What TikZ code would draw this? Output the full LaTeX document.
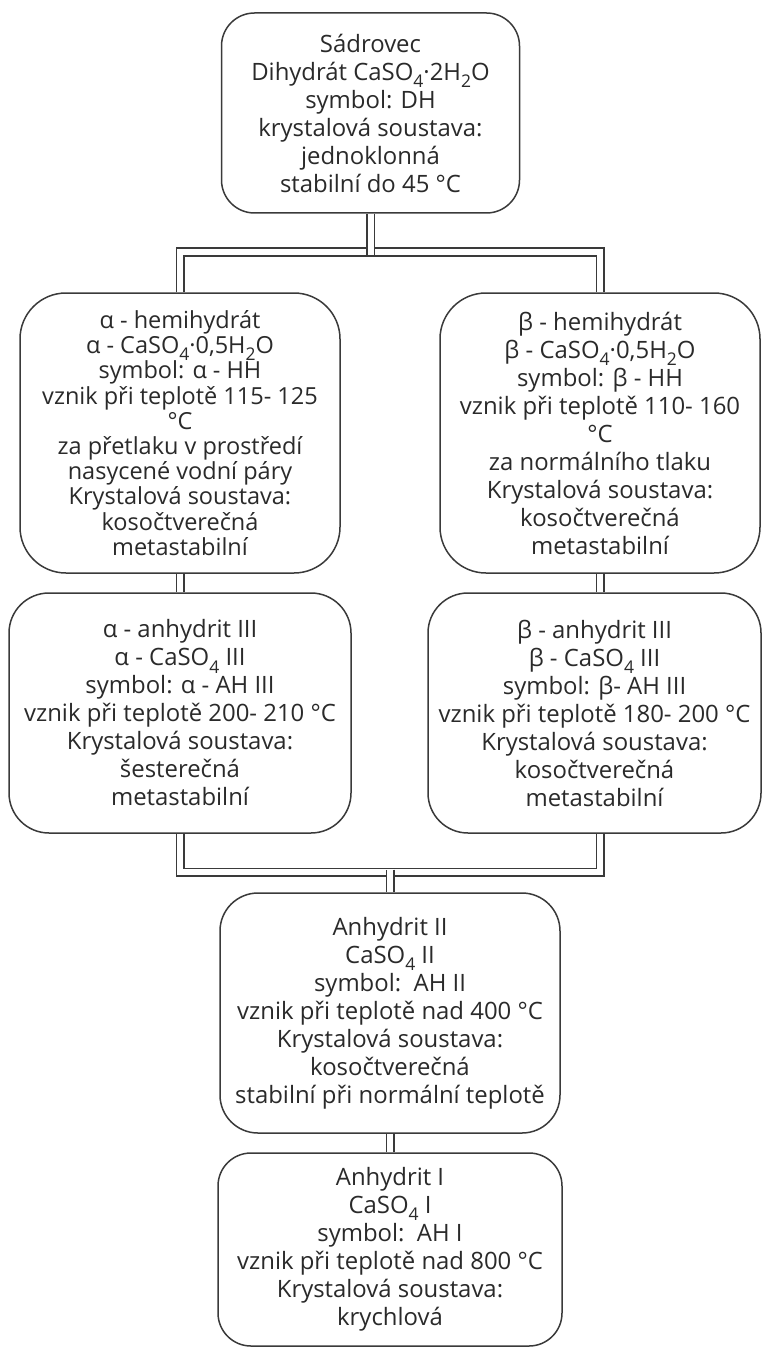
\documentclass[tikz,border=0pt]{standalone}
\usepackage{fontspec}
\setmainfont{Open Sans}
\usetikzlibrary{calc}
\definecolor{ln}{HTML}{3A3A3A}
\definecolor{tx}{HTML}{2A2A2A}
\newcommand\sbs[1]{\raisebox{-0.3em}{\fontsize{17.5}{17.5}\selectfont #1}}
\tikzset{
  box/.style={draw=ln, line width=1.5pt, fill=white, text=tx, align=center,
    inner sep=0pt, font=\fontsize{23.9}{28}\selectfont},
  conn/.style={draw=ln, double=white, line width=1.5pt, double distance=6pt, line join=miter},
}
\begin{document}
\begin{tikzpicture}[x=1pt,y=-1pt]
\useasboundingbox (0,0) rectangle (762,1348);
% boxes
\node[box, minimum width=298pt, minimum height=200pt, rounded corners=33pt] (dh) at (370.5,113)
  {Sádrovec\\Dihydrát CaSO\sbs{4}·2H\sbs{2}O\\symbol: DH\\krystalová soustava:\\jednoklonná\\stabilní do 45 °C};
\node[box, minimum width=320pt, minimum height=280pt, rounded corners=46pt,
      font=\fontsize{23.5}{25.2}\selectfont] (ahh) at (180,433)
  {α - hemihydrát\\α - CaSO\sbs{4}·0,5H\sbs{2}O\\symbol: α - HH\\vznik při teplotě 115- 125\\°C\\za přetlaku v prostředí\\nasycené vodní páry\\Krystalová soustava:\\kosočtverečná\\metastabilní};
\node[box, minimum width=320pt, minimum height=280pt, rounded corners=46pt] (bhh) at (600,433)
  {β - hemihydrát\\β - CaSO\sbs{4}·0,5H\sbs{2}O\\symbol: β - HH\\vznik při teplotě 110- 160\\°C\\za normálního tlaku\\Krystalová soustava:\\kosočtverečná\\metastabilní};
\node[box, minimum width=342pt, minimum height=240pt, rounded corners=40pt] (aah) at (180,713)
  {α - anhydrit III\\α - CaSO\sbs{4} III\\symbol: α - AH III\\vznik při teplotě 200- 210 °C\\Krystalová soustava:\\šesterečná\\metastabilní};
\node[box, minimum width=333pt, minimum height=240pt, rounded corners=40pt] (bah) at (594.5,713)
  {β - anhydrit III\\β - CaSO\sbs{4} III\\symbol: β- AH III\\vznik při teplotě 180- 200 °C\\Krystalová soustava:\\kosočtverečná\\metastabilní};
\node[box, minimum width=340pt, minimum height=240pt, rounded corners=38pt] (ah2) at (390,1013)
  {Anhydrit II\\CaSO\sbs{4} II\\symbol:\ \ AH II\\vznik při teplotě nad 400 °C\\Krystalová soustava:\\kosočtverečná\\stabilní při normální teplotě};
\node[box, minimum width=344pt, minimum height=193pt, rounded corners=33pt] (ah1) at (390,1249.5)
  {Anhydrit I\\CaSO\sbs{4} I\\symbol:\ \ AH I\\vznik při teplotě nad 800 °C\\Krystalová soustava:\\krychlová};
% connectors
\coordinate (hub) at (370.5,252);
\coordinate (hub2) at (390,872);
\draw[conn] (ahh.north) -- (ahh.north |- hub) -- (bhh.north |- hub) -- (bhh.north);
\draw[conn] (dh.south) -- ($(dh.south |- hub)+(0,2.5)$);
\draw[conn] (ahh.south) -- (aah.north);
\draw[conn] (bhh.south) -- (bhh.south |- bah.north);
\draw[conn] (aah.south) -- (aah.south |- hub2) -- (bhh.south |- hub2) -- (bhh.south |- bah.south);
\draw[conn] ($(hub2)+(0,-2.5)$) -- (ah2.north);
\draw[conn] (ah2.south) -- (ah1.north);
\end{tikzpicture}
\end{document}
